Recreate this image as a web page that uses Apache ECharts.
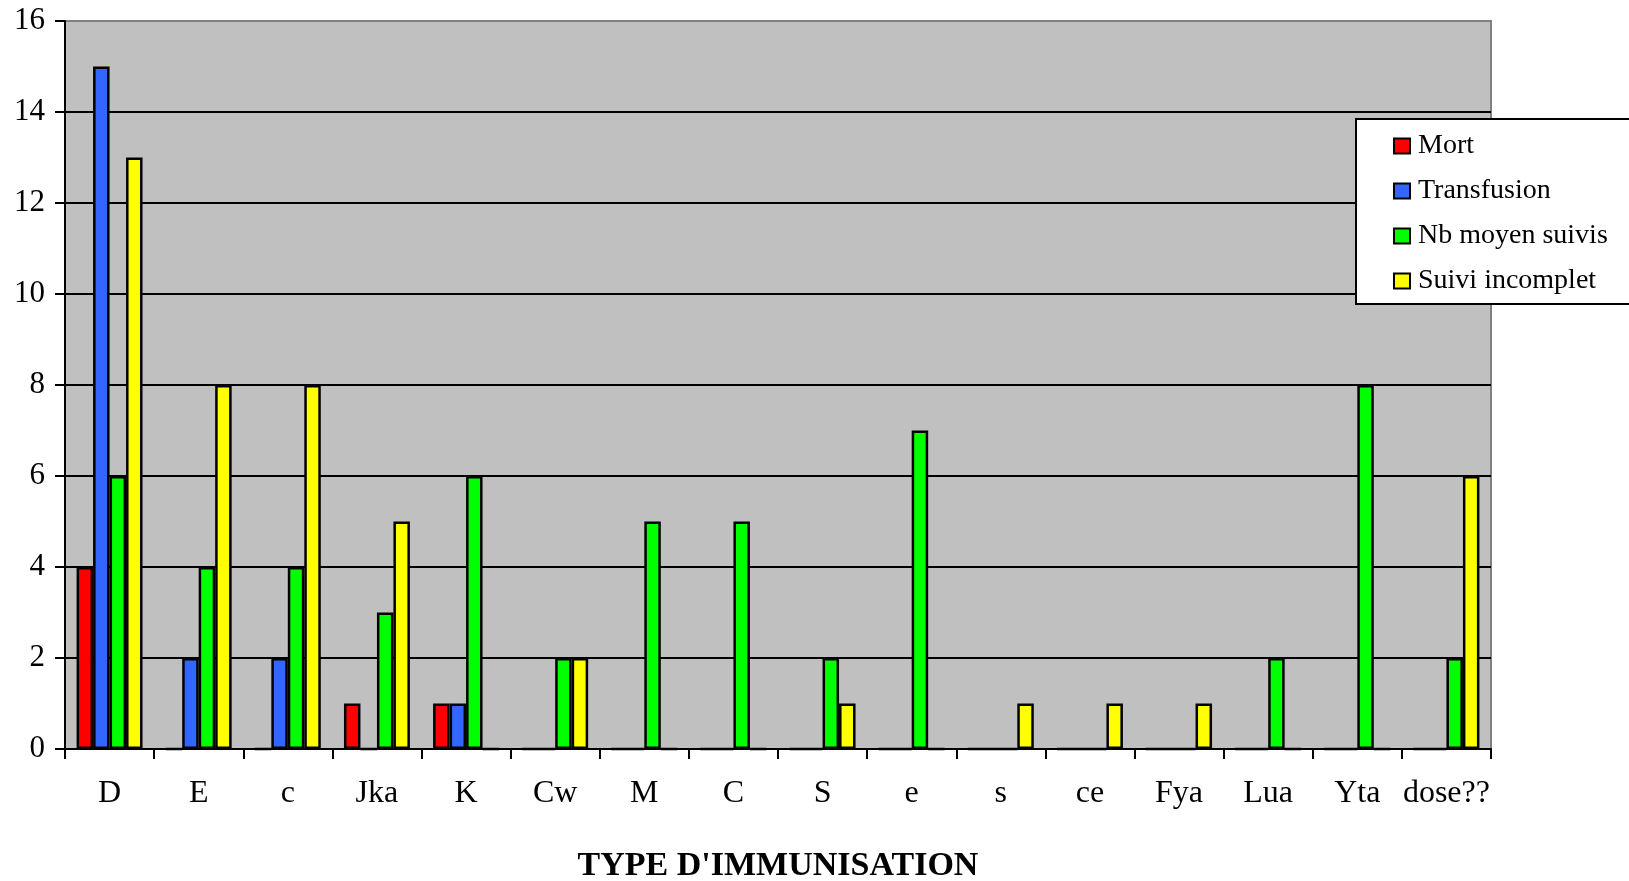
<!DOCTYPE html>
<html>
<head>
<meta charset="utf-8">
<script src="https://cdn.jsdelivr.net/npm/echarts@6/dist/echarts.min.js"></script>
<style>
html,body{margin:0;padding:0;background:#fff;}
#c{width:1629px;height:881px;}
</style>
</head>
<body>
<div id="c"></div>
<script>
const categories = ['D','E','c','Jka','K','Cw','M','C','S','e','s','ce','Fya','Lua','Yta','dose??'];
const mort        = [4,0,0,1,1,0,0,0,0,0,0,0,0,0,0,0];
const transfusion = [15,2,2,0,1,0,0,0,0,0,0,0,0,0,0,0];
const nbMoyen     = [6,4,4,3,6,2,5,5,2,7,0,0,0,2,8,2];
const suiviIncomplet = [13,8,8,5,0,2,0,0,1,0,1,1,1,0,0,6];
const seriesNames = ['Mort','Transfusion','Nb moyen suivis','Suivi incomplet'];
const seriesColors = ['#FF0000','#3366FF','#00FF00','#FFFF00'];
const xTitle = "TYPE D'IMMUNISATION";

const FONT = '"Liberation Serif", "Times New Roman", serif';
const chart = echarts.init(document.getElementById('c'), null, {renderer:'canvas'});
const datasets = [mort, transfusion, nbMoyen, suiviIncomplet];

chart.setOption({
  animation:false,
  backgroundColor:'#ffffff',
  grid:{left:65,right:138,top:21,bottom:132,outerBoundsMode:'none',containLabel:false,show:true,backgroundColor:'#C0C0C0',borderColor:'#808080',borderWidth:2},
  legend:{
    orient:'vertical', left:1356, top:119,
    backgroundColor:'#ffffff', borderColor:'#000000', borderWidth:2,
    padding:[12,200,8,37],
    itemWidth:16, itemHeight:15, itemGap:15,
    icon:'rect',
    textStyle:{fontFamily:FONT,fontSize:28,color:'#000',lineHeight:30,padding:[0,0,0,3]},
    data:seriesNames
  },
  xAxis:{
    type:'category', data:categories,
    axisLine:{lineStyle:{color:'#000',width:2}},
    axisTick:{show:true,interval:0,length:10,lineStyle:{color:'#000',width:2}},
    axisLabel:{interval:0,fontFamily:FONT,fontSize:32,color:'#000',margin:29},
    name:xTitle, nameLocation:'middle', nameGap:100,
    nameTextStyle:{fontFamily:FONT,fontSize:34,fontWeight:'bold',color:'#000'}
  },
  yAxis:{
    type:'value', min:0, max:16, interval:2,
    axisLine:{show:true,lineStyle:{color:'#000',width:2}},
    axisTick:{show:true,length:10,lineStyle:{color:'#000',width:2}},
    axisLabel:{fontFamily:FONT,fontSize:31,color:'#000',margin:20},
    splitLine:{show:true,showMinLine:false,showMaxLine:false,lineStyle:{color:'#000',width:2}}
  },
  series: seriesNames.map((n,i)=>({
    name:n, type:'bar', data:datasets[i],
    barGap:'0%', barCategoryGap:'26%',
    itemStyle:{color:seriesColors[i],borderColor:'#000',borderWidth:2.5}
  }))
});
</script>
</body>
</html>
